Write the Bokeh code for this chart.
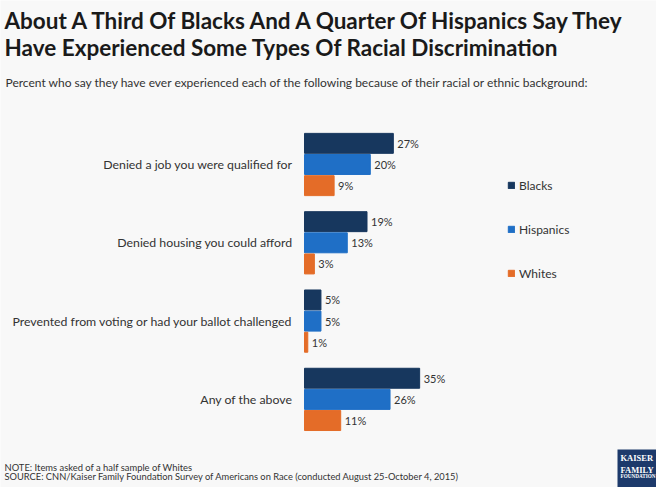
from bokeh.plotting import figure
from bokeh.models import ColumnDataSource, Range1d, Label, Legend, LegendItem
from bokeh.transform import dodge
from bokeh.core.properties import value
from bokeh.embed import file_html
from bokeh.resources import INLINE

categories = ["Denied a job you were qualified for",
              "Denied housing you could afford",
              "Prevented from voting or had your ballot challenged",
              "Any of the above"]
series = ["Blacks", "Hispanics", "Whites"]
blacks = [27, 19, 5, 35]
hispanics = [20, 13, 5, 26]
whites = [9, 3, 1, 11]
colors = ["#17375e", "#1f6fc6", "#e46c28"]
offsets = [-0.27, 0.0, 0.27]

title1 = "About A Third Of Blacks And A Quarter Of Hispanics Say They"
title2 = "Have Experienced Some Types Of Racial Discrimination"
subtitle = "Percent who say they have ever experienced each of the following because of their racial or ethnic background:"
note = "NOTE: Items asked of a half sample of Whites"
source_txt = "SOURCE: CNN/Kaiser Family Foundation Survey of Americans on Race (conducted August 25-October 4, 2015)"

BG = "#f8f8f8"
FONT = "Lato"
W, H = 656, 487

# canvas-pixel ranges for annotation placement
p = figure(width=W, height=H, output_backend="svg", toolbar_location=None,
           x_range=Range1d(0, W), y_range=Range1d(H, 0),
           min_border=0, background_fill_color=BG, border_fill_color=BG,
           outline_line_color=None)
p.axis.visible = False
p.grid.visible = False

# value scale: 0% at x=304, 3.29 px per percent; groups 78.3 px apart, first at y=164
px_per_pct = 3.29
x0 = 304
p.extra_x_ranges = {"val": Range1d(-x0 / px_per_pct, (W - x0) / px_per_pct)}
pitch = 78.3
y0 = 164
p.extra_y_ranges = {"pos": Range1d((H - y0) / pitch, -y0 / pitch)}

src = ColumnDataSource(dict(cat=categories, pos=list(range(len(categories))),
                            zero=[0] * len(categories),
                            Blacks=blacks, Hispanics=hispanics, Whites=whites,
                            Blacks_l=[f"{v}%" for v in blacks],
                            Hispanics_l=[f"{v}%" for v in hispanics],
                            Whites_l=[f"{v}%" for v in whites]))

items = []
for s, c, off in zip(series, colors, offsets):
    r = p.hbar(y=dodge("pos", off), right=s, left=0, height=0.255,
               source=src, fill_color=c, line_color=c,
               x_range_name="val", y_range_name="pos")
    p.text(x=s, y=dodge("pos", off), text=s + "_l", source=src,
           x_offset=4, text_baseline="middle", text_align="left",
           text_font=value(FONT), text_font_size="11px", text_color="#333333",
           x_range_name="val", y_range_name="pos")
    items.append(LegendItem(label=s, renderers=[r]))

# category labels
p.text(x="zero", y="pos", text="cat", source=src, x_offset=-12,
       text_baseline="middle", text_align="right",
       text_font=value(FONT), text_font_size="12.3px", text_color="#333333",
       x_range_name="val", y_range_name="pos")

legend = Legend(items=items, location=(507, 204), glyph_width=8, glyph_height=8,
                label_height=20, spacing=24, padding=0, margin=0,
                label_text_font=FONT, label_text_font_size="12px", label_text_color="#333333",
                border_line_color=None, background_fill_alpha=0, label_standoff=4)
p.add_layout(legend)

def lab(text, x, y, size, bold=False, color="#222222", font=FONT, baseline="middle", **kw):
    p.add_layout(Label(x=x, y=y, text=text,
                       text_font=font, text_font_size=size,
                       text_font_style="bold" if bold else "normal",
                       text_color=color, text_baseline=baseline, text_align="left", **kw))

lab(title1, 4, 20, "22.5px", bold=True, color="#1a1a1a")
lab(title2, 4, 47, "22.5px", bold=True, color="#1a1a1a")
lab(subtitle, 5, 82, "12px", color="#333333")
lab(note, 4, 467, "9.4px", color="#333333")
lab(source_txt, 4, 476, "9.3px", color="#333333")

# logo
lab("KAISER\nFAMILY\n ", 617, 449, "8.5px", bold=True, color="white",
    font="Liberation Serif", baseline="top",
    background_fill_color="#1d3a6b", padding=3)
lab("FOUNDATION", 620, 475, "5.2px", bold=True, color="white",
    font="Liberation Serif", baseline="middle")

open("out.html", "w").write(file_html(p, INLINE))
